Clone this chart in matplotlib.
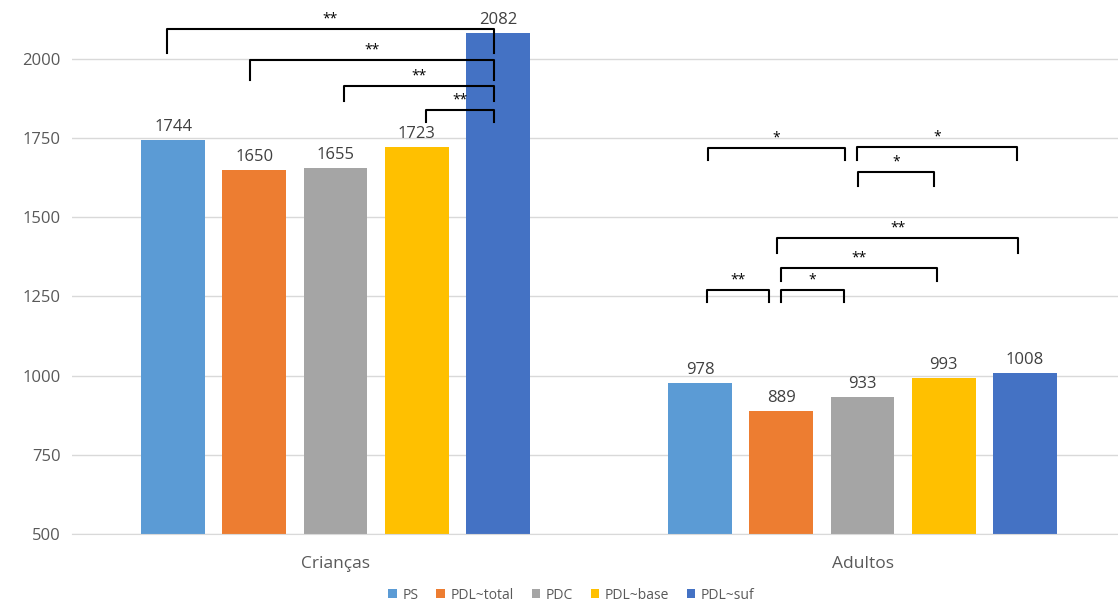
import matplotlib
matplotlib.use("Agg")
import matplotlib.pyplot as plt
import numpy as np

plt.rcParams['font.family'] = ['Open Sans', 'DejaVu Sans']

groups = ['Crianças', 'Adultos']
series = ['PS', 'PDL~total', 'PDC', 'PDL~base', 'PDL~suf']
colors = ['#5B9BD5', '#ED7D31', '#A5A5A5', '#FFC000', '#4472C4']
values = [
    [1744, 978],
    [1650, 889],
    [1655, 933],
    [1723, 993],
    [2082, 1008],
]

# significance brackets: (group, bar a, bar b, line level, leg bottom, label)
brackets = [
    (0, 0, 4, 2095, 2019, '**'),
    (0, 1, 4, 1997, 1934, '**'),
    (0, 2, 4, 1915, 1867, '**'),
    (0, 3, 4, 1839, 1801, '**'),
    (1, 0, 2, 1719, 1681, '*'),
    (1, 2, 4, 1722, 1681, '*'),
    (1, 2, 3, 1643, 1599, '*'),
    (1, 1, 4, 1435, 1387, '**'),
    (1, 1, 3, 1340, 1299, '**'),
    (1, 0, 1, 1270, 1233, '**'),
    (1, 1, 2, 1270, 1233, '*'),
]
# small horizontal nudges of bracket ends so neighbours don't touch
nudges = [
    (-0.011, -0.008), (-0.009, -0.008), (0.017, -0.008), (0.017, -0.008),
    (0.015, -0.034), (-0.011, -0.015), (-0.009, -0.019),
    (-0.008, -0.013), (0.0, -0.013), (0.013, -0.023), (0.0, -0.036),
]

x = np.arange(len(groups))
width = 0.121
step = 0.154

fig = plt.figure(figsize=(11.18, 6.08), dpi=100)
ax = fig.add_axes([0.0644, 0.1217, 0.9428, 0.8783])

for i, (name, vals, col) in enumerate(zip(series, values, colors)):
    pos = x + (i - 2) * step
    ax.bar(pos, vals, width, color=col, label=name, zorder=2)
    for px, v in zip(pos, vals):
        ax.text(px, v + 16, str(v), ha='center', va='bottom',
                fontsize=12, color='#404040')

for (g, a, b, top, leg, lab), (dl, dr) in zip(brackets, nudges):
    xa = x[g] + (a - 2) * step + dl
    xb = x[g] + (b - 2) * step + dr
    ax.plot([xa, xa, xb, xb], [leg, top, top, leg], color='black',
            lw=1.5, clip_on=False, zorder=3, solid_joinstyle='round')
    ax.text((xa + xb) / 2, top + 8, lab, ha='center', va='bottom',
            fontsize=10, color='black')

ax.set_xlim(-0.5, 1.5)
ax.set_ylim(500, 2186)
ax.set_yticks([500, 750, 1000, 1250, 1500, 1750, 2000])
ax.set_xticks(x)
ax.set_xticklabels(groups)
ax.yaxis.grid(True, color='#D9D9D9', lw=1, zorder=0)
ax.set_axisbelow(True)
for s in ['top', 'right', 'left']:
    ax.spines[s].set_visible(False)
ax.spines['bottom'].set_color('#D9D9D9')
ax.tick_params(axis='both', length=0, labelsize=12, labelcolor='#595959')
ax.tick_params(axis='x', pad=16, labelsize=12.5)
ax.tick_params(axis='y', pad=8)

ax.legend(loc='lower center', bbox_to_anchor=(0.474, -0.152), ncol=5,
          frameon=False, fontsize=10, handlelength=0.6, handleheight=0.6,
          handletextpad=0.4, columnspacing=1.3, labelcolor='#595959')

fig.savefig('out.png', dpi=100)
